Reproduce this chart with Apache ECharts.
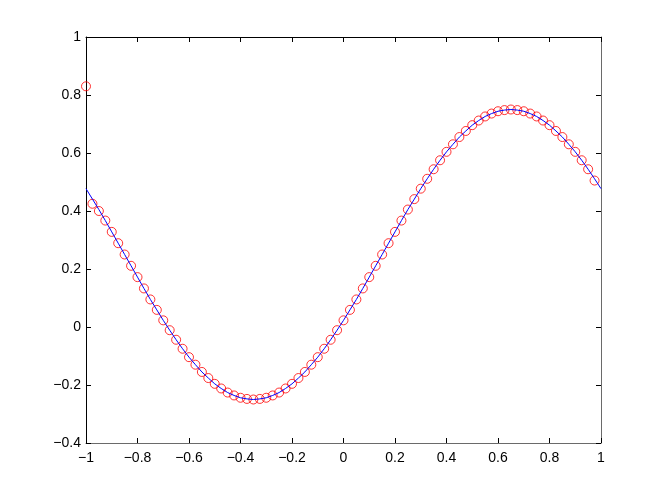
<!DOCTYPE html>
<html>
<head>
<meta charset="utf-8">
<script src="https://cdn.jsdelivr.net/npm/echarts@6/dist/echarts.min.js"></script>
<style>
html,body{margin:0;padding:0;background:#fff;}
#chart{width:664px;height:500px;}
</style>
</head>
<body>
<div id="chart"></div>
<script>
// x grid shared by the curve and the circles
const xGrid = [-1,-0.975,-0.95,-0.925,-0.9,-0.875,-0.85,-0.825,-0.8,-0.775,-0.75,-0.725,-0.7,-0.675,-0.65,-0.625,-0.6,-0.575,-0.55,-0.525,-0.5,-0.475,-0.45,-0.425,-0.4,-0.375,-0.35,-0.325,-0.3,-0.275,-0.25,-0.225,-0.2,-0.175,-0.15,-0.125,-0.1,-0.075,-0.05,-0.025,0,0.025,0.05,0.075,0.1,0.125,0.15,0.175,0.2,0.225,0.25,0.275,0.3,0.325,0.35,0.375,0.4,0.425,0.45,0.475,0.5,0.525,0.55,0.575,0.6,0.625,0.65,0.675,0.7,0.725,0.75,0.775,0.8,0.825,0.85,0.875,0.9,0.925,0.95,0.975,1];
// blue curve values
const lineY = [0.477,0.441,0.405,0.367,0.328,0.289,0.25,0.211,0.172,0.133,0.095,0.059,0.023,-0.011,-0.044,-0.075,-0.104,-0.130,-0.155,-0.176,-0.196,-0.212,-0.226,-0.236,-0.244,-0.248,-0.25,-0.248,-0.244,-0.236,-0.226,-0.212,-0.196,-0.176,-0.155,-0.130,-0.104,-0.075,-0.044,-0.011,0.023,0.059,0.095,0.133,0.172,0.211,0.25,0.289,0.328,0.367,0.405,0.441,0.477,0.511,0.544,0.575,0.604,0.630,0.655,0.676,0.696,0.712,0.726,0.736,0.744,0.748,0.75,0.748,0.744,0.736,0.726,0.712,0.696,0.676,0.655,0.630,0.604,0.575,0.544,0.511,0.477];
// red circle values (x = first 80 grid points)
const circleY = [0.83,0.425,0.400,0.367,0.328,0.289,0.25,0.211,0.172,0.133,0.095,0.059,0.023,-0.011,-0.044,-0.075,-0.104,-0.130,-0.155,-0.176,-0.196,-0.212,-0.226,-0.236,-0.244,-0.248,-0.25,-0.248,-0.244,-0.236,-0.226,-0.212,-0.196,-0.176,-0.155,-0.130,-0.104,-0.075,-0.044,-0.011,0.023,0.059,0.095,0.133,0.172,0.211,0.25,0.289,0.328,0.367,0.405,0.441,0.477,0.511,0.544,0.575,0.604,0.630,0.655,0.676,0.696,0.712,0.726,0.736,0.744,0.748,0.75,0.748,0.744,0.736,0.726,0.712,0.696,0.676,0.655,0.630,0.604,0.575,0.544,0.505];
const xTicks = {min:-1, max:1, interval:0.2};
const yTicks = {min:-0.4, max:1, interval:0.2};

const lineData = xGrid.map((x,i)=>[x,lineY[i]]);
const circleData = circleY.map((y,i)=>[xGrid[i],y]);

const fmt = v => {
  const r = Math.round(v*10)/10;
  return String(r).replace('-', '\u2212');
};
const font = 'Liberation Sans, Arial, Helvetica, sans-serif';
const chart = echarts.init(document.getElementById('chart'), null, {renderer:'canvas'});
chart.setOption({
  backgroundColor:'#fff',
  animation:false,
  grid:{left:86, top:37, width:515, height:406, containLabel:false},
  xAxis:[
    {type:'value', position:'bottom', min:xTicks.min, max:xTicks.max, interval:xTicks.interval,
     axisLine:{onZero:false, lineStyle:{color:'#6a6a6a', width:1}},
     axisTick:{inside:true, length:5, lineStyle:{color:'#000'}},
     axisLabel:{formatter:fmt, color:'#000', fontSize:14, fontFamily:font, margin:8},
     splitLine:{show:false}},
    {type:'value', position:'top', min:xTicks.min, max:xTicks.max, interval:xTicks.interval,
     axisLine:{onZero:false, lineStyle:{color:'#000', width:1}},
     axisTick:{inside:true, length:5, lineStyle:{color:'#000'}},
     axisLabel:{show:false}, splitLine:{show:false}}
  ],
  yAxis:[
    {type:'value', position:'left', min:yTicks.min, max:yTicks.max, interval:yTicks.interval,
     axisLine:{show:true, onZero:false, lineStyle:{color:'#000', width:1}},
     axisTick:{show:true, inside:true, length:5, lineStyle:{color:'#000'}},
     axisLabel:{formatter:fmt, color:'#000', fontSize:14, fontFamily:font, margin:5},
     splitLine:{show:false}},
    {type:'value', position:'right', min:yTicks.min, max:yTicks.max, interval:yTicks.interval,
     axisLine:{show:true, onZero:false, lineStyle:{color:'#6a6a6a', width:1}},
     axisTick:{show:true, inside:true, length:5, lineStyle:{color:'#000'}},
     axisLabel:{show:false}, splitLine:{show:false}}
  ],
  series:[
    {type:'scatter', xAxisIndex:0, yAxisIndex:0, data:circleData, symbol:'circle', symbolSize:9, clip:false,
     itemStyle:{color:'rgba(0,0,0,0)', borderColor:'#ff0000', borderWidth:1}, z:2},
    {type:'line', xAxisIndex:0, yAxisIndex:0, data:lineData, showSymbol:false, symbol:'none',
     lineStyle:{color:'#0000ff', width:1}, z:3}
  ]
});
</script>
</body>
</html>
